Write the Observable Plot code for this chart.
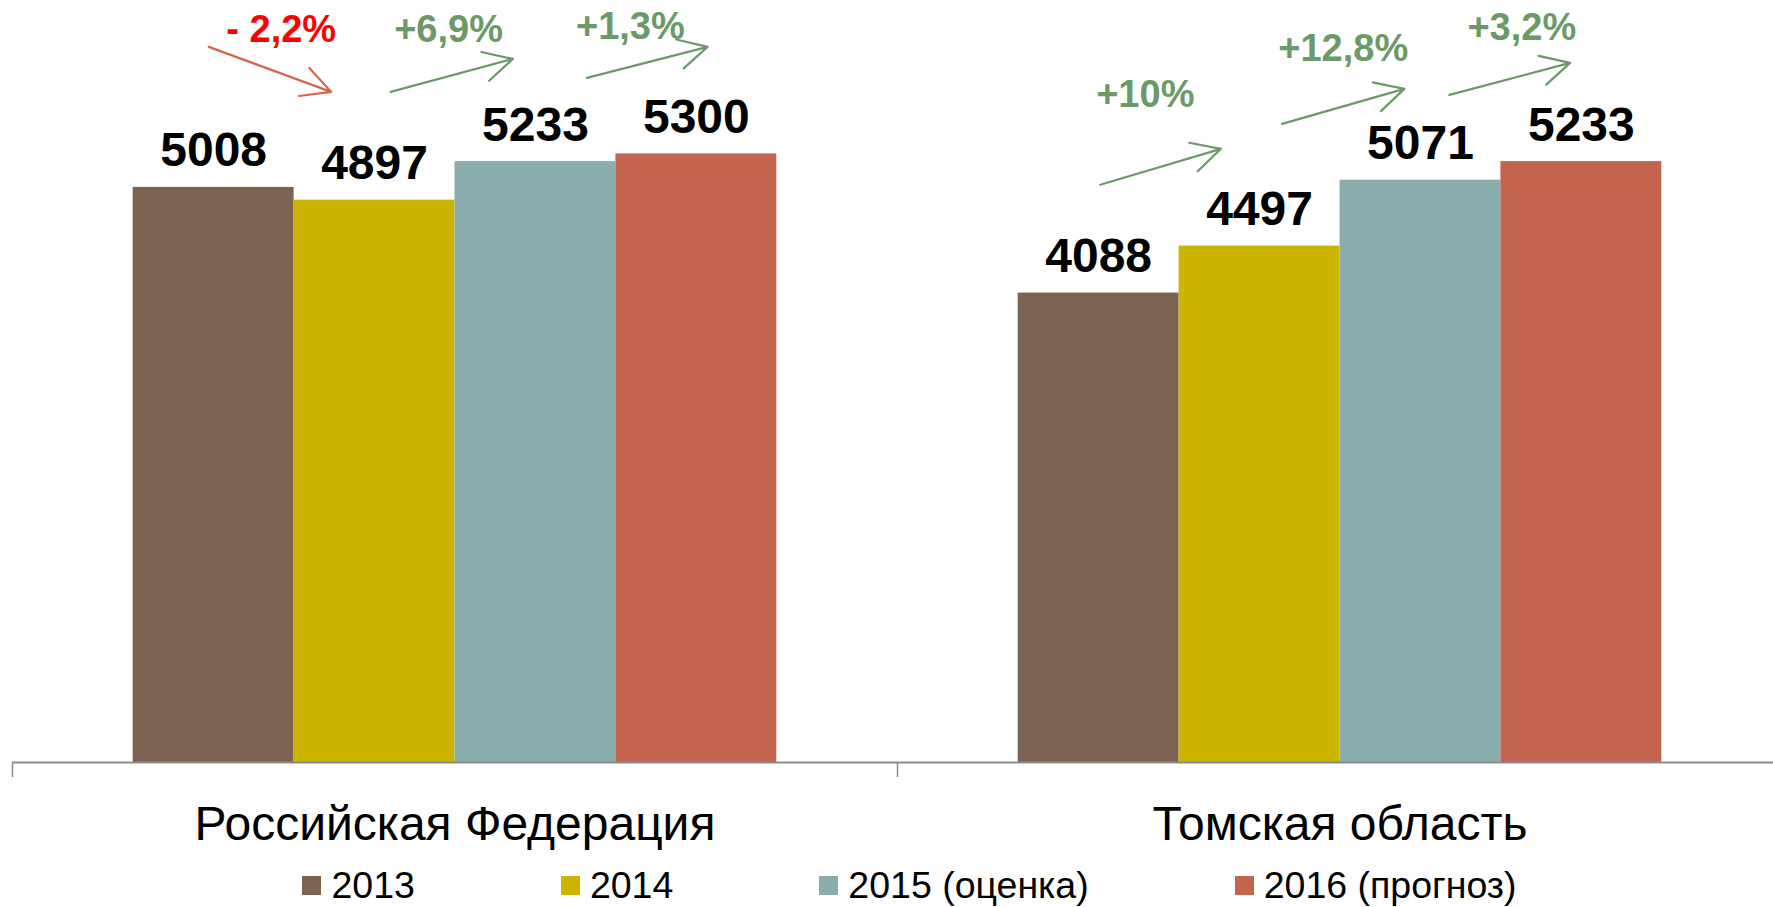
<!DOCTYPE html>
<html>
<head>
<meta charset="utf-8">
<script src="https://cdn.jsdelivr.net/npm/d3@7"></script>
<script src="https://cdn.jsdelivr.net/npm/@observablehq/plot@0.6"></script>
<style>
  html, body { margin: 0; padding: 0; background: #fff; }
  body { width: 1773px; height: 907px; overflow: hidden; font-family: "Liberation Sans", Arial, sans-serif; }
  #legend { display: flex; justify-content: center; align-items: center; height: 57px; margin-top: 7px; padding-left: 46px; gap: 146px; font-size: 37.5px; color: #000; }
  .item { display: flex; align-items: center; }
  .sw { width: 19px; height: 19px; margin-right: 10px; }
</style>
</head>
<body>
<div id="chart"></div>
<div id="legend"></div>
<script>
// ---- data ----
const categories = ["Российская Федерация", "Томская область"];
const years = ["2013", "2014", "2015 (оценка)", "2016 (прогноз)"];
const yearColors = ["#7c6351", "#ccb400", "#8badae", "#c3644e"];
const rfValues = [5008, 4897, 5233, 5300];
const tomskValues = [4088, 4497, 5071, 5233];

// change annotations (position in slot units along x, value units along y)
const changeLabels = ["- 2,2%", "+6,9%", "+1,3%", "+10%", "+12,8%", "+3,2%"];
const changeColors = ["#ff0000", "#6b9a68", "#6b9a68", "#6b9a68", "#6b9a68", "#6b9a68"];
const changeLabelX = [1.67, 2.71, 3.84, 7.04, 8.27, 9.38];
const changeLabelY = [6380, 6380, 6405, 5815, 6215, 6400];
const arrowColors = ["#d5664a", "#6b9a68", "#6b9a68", "#6b9a68", "#6b9a68", "#6b9a68"];
const arrowX1 = [1.22, 2.35, 3.57, 6.76, 7.89, 8.93];
const arrowY1 = [6232, 5840, 5962, 5031, 5561, 5814];
const arrowX2 = [1.98, 3.11, 4.32, 7.51, 8.65, 9.68];
const arrowY2 = [5840, 6127, 6232, 5344, 5866, 6092];

// ---- build tables ----
const groupWidth = 5.5, outerPad = 0.75;
const seriesByCat = [rfValues, tomskValues];
const bars = [];
categories.forEach((c, gi) => {
  years.forEach((y, yi) => {
    const x1 = gi * groupWidth + outerPad + yi;
    bars.push({cat: c, year: y, value: seriesByCat[gi][yi], x1, x2: x1 + 1, xc: x1 + 0.5});
  });
});
const notes = changeLabels.map((t, i) => ({t, x: changeLabelX[i], y: changeLabelY[i], color: changeColors[i]}));
const arrows = arrowX1.map((x1, i) => ({x1, y1: arrowY1[i], x2: arrowX2[i], y2: arrowY2[i], color: arrowColors[i]}));
const catCenters = categories.map((c, gi) => gi * groupWidth + groupWidth / 2);
const boundaries = [0, groupWidth, 2 * groupWidth];

const chart = Plot.plot({
  width: 1773,
  height: 850,
  marginLeft: 12,
  marginRight: -9,
  marginTop: 73,
  marginBottom: 88,
  style: {fontFamily: "'Liberation Sans', Arial, sans-serif", overflow: "visible", background: "#fff"},
  x: {domain: [0, 2 * groupWidth], axis: null},
  y: {domain: [0, 6000], axis: null},
  color: {domain: years, range: yearColors},
  marks: [
    Plot.rectY(bars, {x1: "x1", x2: "x2", y: "value", fill: "year", insetLeft: 0, insetRight: 0}),
    Plot.ruleY([0], {stroke: "#8c8c8c", strokeWidth: 2}),
    Plot.axisX({ticks: boundaries, tickSize: 15, tickFormat: () => "", stroke: "#8c8c8c", strokeWidth: 1.5}),
    Plot.axisX({ticks: catCenters, tickSize: 0, tickPadding: 43, fontSize: 48, fill: "#000",
      tickFormat: (d) => categories[catCenters.indexOf(d)]}),
    Plot.text(bars, {x: "xc", y: "value", text: (d) => String(d.value), dy: -21, lineAnchor: "bottom",
      fontSize: 48, fontWeight: "bold", fill: "#000"}),
    Plot.arrow(arrows, {x1: "x1", y1: "y1", x2: "x2", y2: "y2", stroke: "color", strokeWidth: 2.2,
      headLength: 22, headAngle: 55}),
    Plot.text(notes, {x: "x", y: "y", text: "t", fill: "color", fontSize: 38, fontWeight: "bold", lineAnchor: "middle"})
  ]
});
document.getElementById("chart").appendChild(chart);

// legend
const legend = document.getElementById("legend");
years.forEach((y, i) => {
  const it = document.createElement("div");
  it.className = "item";
  const sw = document.createElement("span");
  sw.className = "sw";
  sw.style.background = yearColors[i];
  const tx = document.createElement("span");
  tx.textContent = y;
  it.appendChild(sw); it.appendChild(tx);
  legend.appendChild(it);
});
</script>
</body>
</html>
